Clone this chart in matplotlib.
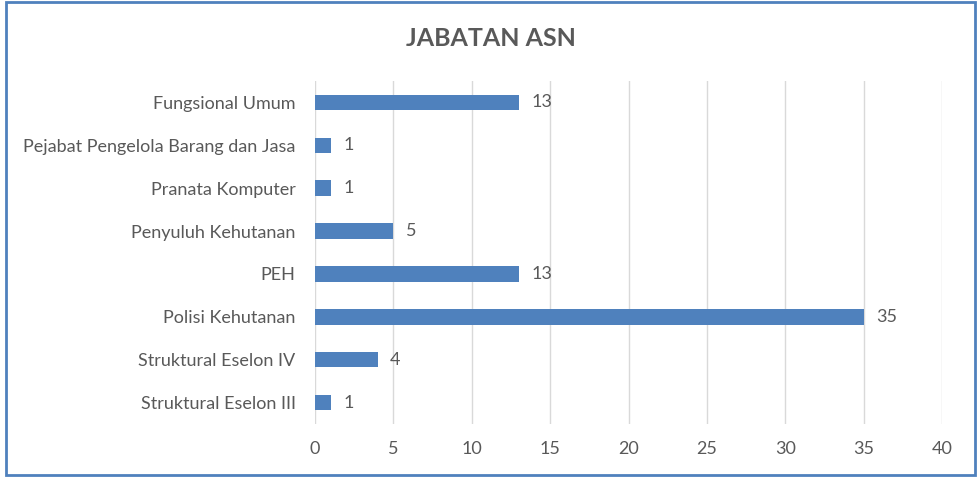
import matplotlib.pyplot as plt
from matplotlib.patches import Rectangle

# Jabatan ASN (jumlah pegawai per jabatan)
jabatan = ['Struktural Eselon III', 'Struktural Eselon IV', 'Polisi Kehutanan', 'PEH',
           'Penyuluh Kehutanan', 'Pranata Komputer', 'Pejabat Pengelola Barang dan Jasa',
           'Fungsional Umum']
jumlah = [1, 4, 35, 13, 5, 1, 1, 13]
xticks = [0, 5, 10, 15, 20, 25, 30, 35, 40]

plt.rcParams['font.family'] = ['Lato', 'DejaVu Sans']
grey = '#595959'

fig = plt.figure(figsize=(9.77, 4.8), dpi=100)
ax = fig.add_axes([0.3224, 0.1167, 0.6418, 0.7146])

bars = ax.barh(jabatan, jumlah, height=0.36, color='#4F81BD')
for b, v in zip(bars, jumlah):
    ax.annotate(str(v), (b.get_width(), b.get_y() + b.get_height() / 2),
                xytext=(9, 0), textcoords='offset points',
                va='center', ha='left', fontsize=13, color=grey)

ax.set_xlim(0, 40)
ax.set_ylim(-0.5, len(jabatan) - 0.5)
ax.set_xticks(xticks)
ax.grid(axis='x', color='#D9D9D9', linewidth=1)
ax.set_axisbelow(True)
for s in ax.spines.values():
    s.set_visible(False)
ax.tick_params(axis='both', length=0, labelsize=13, colors=grey)
ax.tick_params(axis='y', pad=14)
ax.tick_params(axis='x', pad=12)

fig.text(0.502, 0.92, 'JABATAN ASN', ha='center', va='center',
         fontsize=18, fontweight='bold', color=grey)

fig.patches.append(Rectangle((0.006, 0.01), 0.992, 0.985, transform=fig.transFigure,
                             fill=False, edgecolor='#4F81BD', linewidth=2))

fig.savefig('out.png', dpi=100)
